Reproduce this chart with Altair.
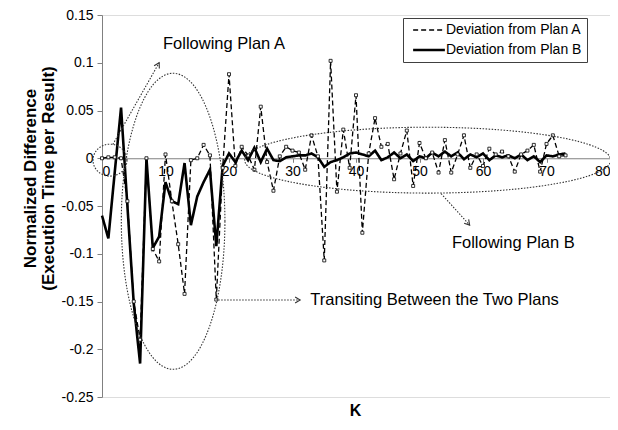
import altair as alt
import pandas as pd

# ---------------- data ----------------
K = list(range(74))
plan_a = [0.000, 0.001, 0.001, 0.000, -0.045, -0.150, -0.190, 0.000, -0.095, -0.108,
          0.004, -0.045, -0.090, -0.142, -0.002, 0.000, 0.014, 0.003, -0.148, -0.010,
          0.088, -0.008, 0.012, 0.003, -0.012, 0.054, -0.004, -0.034, 0.002, 0.012,
          0.008, 0.006, -0.012, 0.024, 0.002, -0.107, 0.102, -0.035, 0.030, -0.010,
          0.066, -0.078, 0.005, 0.042, 0.012, 0.015, -0.022, 0.005, 0.029, -0.029,
          0.016, 0.000, 0.006, -0.015, 0.019, -0.015, 0.004, 0.024, -0.010, 0.004,
          -0.008, 0.010, 0.004, 0.007, 0.002, -0.014, 0.004, 0.008, 0.014, -0.014,
          0.015, 0.024, 0.002, 0.003]
plan_b = [-0.060, -0.084, -0.015, 0.053, -0.050, -0.152, -0.215, 0.000, -0.094, -0.082,
          -0.025, -0.045, -0.048, -0.005, -0.070, -0.040, -0.025, -0.012, -0.092, -0.008,
          0.005, -0.004, 0.008, -0.002, 0.011, -0.004, 0.010, -0.002, -0.003, 0.001,
          0.002, 0.003, 0.003, 0.005, 0.001, -0.009, -0.004, -0.002, 0.001, 0.005,
          0.006, 0.004, 0.002, 0.008, -0.002, 0.001, 0.006, 0.000, 0.004, -0.003,
          0.002, 0.000, 0.006, 0.002, 0.007, 0.002, 0.006, -0.001, 0.004, 0.001,
          0.005, -0.002, 0.003, 0.001, 0.003, 0.000, 0.004, -0.002, 0.002, -0.004,
          0.003, 0.002, 0.004, 0.005]
series_names = ["Deviation from Plan A", "Deviation from Plan B"]

x_ticks = [0, 10, 20, 30, 40, 50, 60, 70, 80]
y_ticks = [-0.25, -0.2, -0.15, -0.1, -0.05, 0, 0.05, 0.1, 0.15]

# annotations (data coordinates)
note_text = ["Following Plan A", "Following Plan B", "Transiting Between the Two Plans"]
note_k = [9.6, 55.1, 32.8]
note_v = [0.12, -0.0887, -0.148]

arrow_k1 = [1.7, 53.4, 18.3]
arrow_v1 = [0.0144, -0.037, -0.1485]
arrow_k2 = [9.0, 57.9, 31.2]
arrow_v2 = [0.100, -0.070, -0.1485]
arrow_ang = [29, 139, 90]

ell_k = [1.26, 11.2, 51.3]
ell_v = [-0.002, -0.066, -0.002]

# ---------------- tables ----------------
rows = []
for k, a, b in zip(K, plan_a, plan_b):
    rows.append({"K": k, "value": a, "series": series_names[0]})
    rows.append({"K": k, "value": b, "series": series_names[1]})
df = pd.DataFrame(rows)
df_a = pd.DataFrame({"K": K, "value": plan_a})
df_notes = pd.DataFrame({"K": note_k, "value": note_v, "text": note_text})
df_arrows = pd.DataFrame({"K": arrow_k1, "value": arrow_v1, "K2": arrow_k2, "value2": arrow_v2, "ang": arrow_ang})

W, H = 508, 382
FONT = "Liberation Sans"
x_scale = alt.Scale(domain=[0, 80], nice=False, zero=False)
y_scale = alt.Scale(domain=[-0.25, 0.15], nice=False, zero=False)
zero_off = -H * 0.25 / 0.4

x_axis = alt.Axis(values=x_ticks, offset=zero_off, title="K", titleX=253, titleY=252,
                  titleBaseline="middle", titleFontSize=16, titleFontWeight="bold",
                  labelFontSize=14, tickSize=4, labelPadding=2, format="d", grid=False,
                  domainColor="#808080", tickColor="#808080", labelColor="black",
                  titleColor="black")
y_axis = alt.Axis(values=y_ticks, title=["Normalized Difference", "(Execution Time per Result)"],
                  titleX=-80, titleY=163, titleAngle=-90, titleBaseline="top",
                  titleAlign="center", titleFontSize=17, titleFontWeight="bold",
                  titleLineHeight=18, labelFontSize=14, tickSize=5, labelPadding=4,
                  labelExpr="toString(datum.value)", grid=False,
                  domainColor="#808080", tickColor="#808080", labelColor="black",
                  titleColor="black")

x_enc = alt.X("K:Q", scale=x_scale, axis=x_axis)
y_enc = alt.Y("value:Q", scale=y_scale, axis=y_axis)

lines = alt.Chart(df).mark_line(color="black").encode(
    x=x_enc, y=y_enc,
    strokeDash=alt.StrokeDash("series:N", scale=alt.Scale(domain=series_names, range=[[5, 3], [1, 0]]),
                              legend=alt.Legend(orient="none", legendX=301, legendY=3, title=None,
                                                symbolType="M -6,0 L 6,0", symbolSize=28,
                                                symbolOffset=14, symbolStrokeColor="black",
                                                labelFontSize=14, labelFont=FONT,
                                                labelColor="black", strokeColor="#404040",
                                                fillColor="white", padding=5, labelOffset=10,
                                                rowPadding=6)),
    strokeWidth=alt.StrokeWidth("series:N", scale=alt.Scale(domain=series_names, range=[1.3, 2.6]),
                                legend=None),
    order="K:Q",
)

markers = alt.Chart(df_a).mark_point(shape="square", size=9, filled=True, fill="white",
                                     stroke="black", strokeWidth=0.8, opacity=1).encode(
    x=alt.X("K:Q", scale=x_scale), y=alt.Y("value:Q", scale=y_scale))


def ellipse_path(ax, ay):
    k = 0.5523
    return (f"M {ax},0 C {ax},{k*ay:.4f} {k*ax:.4f},{ay} 0,{ay} "
            f"C {-k*ax:.4f},{ay} {-ax},{k*ay:.4f} {-ax},0 "
            f"C {-ax},{-k*ay:.4f} {-k*ax:.4f},{-ay} 0,{-ay} "
            f"C {k*ax:.4f},{-ay} {ax},{-k*ay:.4f} {ax},0 Z")


ell_shapes = [ellipse_path(1, 0.94), ellipse_path(0.35, 1), ellipse_path(1, 0.18)]
ell_sizes = [34 ** 2, 296 ** 2, 366 ** 2]
ell_layers = []
for i in range(3):
    d = pd.DataFrame({"K": [ell_k[i]], "value": [ell_v[i]]})
    ell_layers.append(alt.Chart(d).mark_point(shape=ell_shapes[i], size=ell_sizes[i], filled=False,
                                              stroke="#333333", strokeWidth=1.1,
                                              strokeDash=[1.5, 1.5], opacity=1).encode(
        x=alt.X("K:Q", scale=x_scale), y=alt.Y("value:Q", scale=y_scale)))

arrows = alt.Chart(df_arrows).mark_rule(color="#333333", strokeWidth=1.1, strokeDash=[1.5, 1.5]).encode(
    x=alt.X("K:Q", scale=x_scale), y=alt.Y("value:Q", scale=y_scale),
    x2="K2:Q", y2="value2:Q")

heads = alt.Chart(df_arrows).mark_point(shape="M -0.6,1 L 0,0 L 0.6,1", size=100, filled=False,
                                        stroke="#333333", strokeWidth=1.1, opacity=1).encode(
    x=alt.X("K2:Q", scale=x_scale), y=alt.Y("value2:Q", scale=y_scale),
    angle=alt.Angle("ang:Q", scale=None))

notes = alt.Chart(df_notes).mark_text(align="left", baseline="middle", fontSize=16.5,
                                      font=FONT, color="black").encode(
    x=alt.X("K:Q", scale=x_scale), y=alt.Y("value:Q", scale=y_scale), text="text:N")

chart = alt.layer(lines, markers, *ell_layers, arrows, heads, notes).properties(
    width=W, height=H,
    autosize=alt.AutoSizeParams(type="none"),
    padding={"left": 94, "top": 7, "right": 0, "bottom": 25},
).configure_view(stroke="#808080", strokeWidth=1).configure_axis(
    labelFont=FONT, titleFont=FONT
).configure_legend(labelFont=FONT).configure(background="white")

chart.save("out.html", embed_options={"renderer": "svg", "actions": False})
